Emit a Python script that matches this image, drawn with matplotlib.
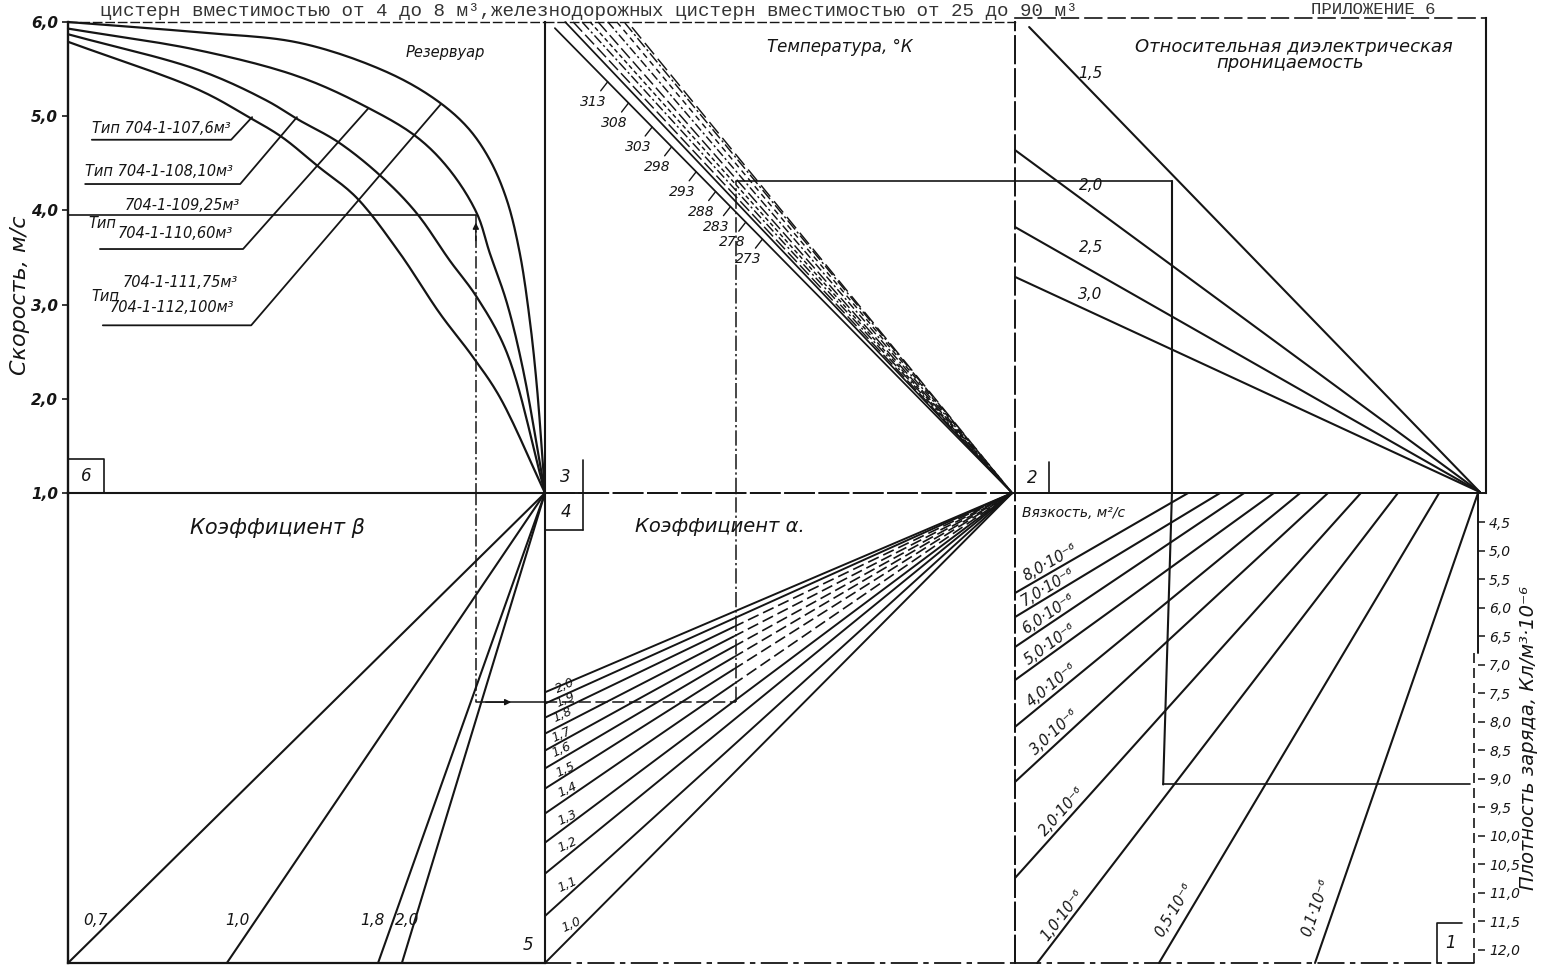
import numpy as np
import matplotlib
matplotlib.use("Agg")
import matplotlib.pyplot as plt

plt.rcParams['font.family'] = ['DejaVu Sans']
INK = '#151515'

# ===================== DATA =====================
# Panel 6 - tank curves: fraction across panel / speed, m/s
speed_ticks = [1.0, 2.0, 3.0, 4.0, 5.0, 6.0]
curve1_x = [0, 0.274, 0.484, 0.659, 0.764, 0.836, 0.884, 0.920, 0.947, 0.968, 0.983, 1.0]
curve1_v = [6.0, 5.89, 5.78, 5.49, 5.20, 4.89, 4.54, 4.11, 3.55, 2.84, 2.13, 1.0]
curve2_x = [0, 0.274, 0.484, 0.625, 0.731, 0.80, 0.857, 0.884, 0.920, 0.954, 1.0]
curve2_v = [5.93, 5.70, 5.42, 5.10, 4.78, 4.43, 3.97, 3.55, 3.02, 2.31, 1.0]
curve3_x = [0, 0.274, 0.415, 0.484, 0.568, 0.659, 0.731, 0.80, 0.857, 0.920, 1.0]
curve3_v = [5.87, 5.49, 5.17, 4.96, 4.72, 4.35, 3.97, 3.47, 3.08, 2.49, 1.0]
curve4_x = [0, 0.274, 0.379, 0.448, 0.526, 0.604, 0.695, 0.779, 0.848, 0.905, 1.0]
curve4_v = [5.79, 5.28, 4.99, 4.78, 4.46, 4.14, 3.55, 2.91, 2.45, 2.02, 1.0]
tank_type_lines = ["Тип 704-1-107,6м³", "Тип 704-1-108,10м³",
                   "704-1-109,25м³", "Тип", "704-1-110,60м³",
                   "704-1-111,75м³", "Тип", "704-1-112,100м³"]
leader_x0 = [0.050, 0.036, 0.067, 0.073]
leader_x1 = [0.342, 0.361, 0.367, 0.384]
leader_v = [4.75, 4.28, 3.59, 2.78]
leader_tip_x = [0.386, 0.480, 0.629, 0.782]
leader_tip_v = [4.99, 4.99, 5.08, 5.13]

# Panel 5 - coefficient beta
beta_values = [0.7, 1.0, 1.8, 2.0]
beta_bottom_x = [0.0, 0.333, 0.650, 0.700]

# Panel 4 - coefficient alpha
alpha_labels = ["2,0", "1,9", "1,8", "1,7", "1,6", "1,5", "1,4", "1,3", "1,2", "1,1", "1,0"]
alpha_left_fy = [0.424, 0.448, 0.478, 0.512, 0.548, 0.586, 0.629, 0.682, 0.744, 0.810, 0.900, 1.0]
alpha_dashed = [2, 3, 4, 5, 6, 7]

# Panel 3 - temperature, K
temp_values = [313, 308, 303, 298, 293, 288, 283, 278, 273]
temp_tick_fy = [0.127, 0.172, 0.223, 0.265, 0.318, 0.360, 0.392, 0.425, 0.461]
temp_top_x = [0.021, 0.043, 0.060, 0.079, 0.096, 0.113, 0.134, 0.153, 0.170, 0.185]
temp_top_fy = [0.013, 0.0, 0.0, 0.0, 0.0, 0.0, 0.0, 0.0, 0.002, 0.011]

# Panel 2 - relative permittivity
eps_values = [1.5, 2.0, 2.5, 3.0]
eps_start_x = [0.030, 0.0, 0.0, 0.0]
eps_start_fy = [0.019, 0.278, 0.440, 0.545]

# Panel 1 - viscosity lines over charge density scale
density_ticks = [4.5, 5.0, 5.5, 6.0, 6.5, 7.0, 7.5, 8.0, 8.5, 9.0, 9.5, 10.0, 10.5, 11.0, 11.5, 12.0]
visc_labels = ["8,0·10⁻⁶", "7,0·10⁻⁶", "6,0·10⁻⁶", "5,0·10⁻⁶", "4,0·10⁻⁶",
               "3,0·10⁻⁶", "2,0·10⁻⁶", "1,0·10⁻⁶", "0,5·10⁻⁶", "0,1·10⁻⁶"]
visc_start_x = [0, 0, 0, 0, 0, 0, 0, 0.048, 0.311, 0.648]
visc_start_d = [5.744, 6.165, 6.69, 7.27, 8.09, 9.056, 10.74, 12.23, 12.23, 12.23]
visc_end_x = [0.374, 0.443, 0.495, 0.559, 0.616, 0.676, 0.747, 0.827, 0.916, 1.0]

# Worked example (key line)
example_speed = 3.95
example_x6 = 0.855
example_fy5 = 0.445
example_x4 = 0.406
example_fy3 = 0.338
example_x2 = 0.333
example_x1 = 0.320
example_density = 9.1

# ===================== LAYOUT =====================
W, H = 1542, 967
fig = plt.figure(figsize=(W / 100, H / 100), dpi=100)
fig.patch.set_facecolor('white')


def panel(x0, y0, x1, y1):
    ax = fig.add_axes([x0 / W, 1 - y1 / H, (x1 - x0) / W, (y1 - y0) / H])
    ax.set_facecolor('none')
    ax.set_xticks([])
    ax.set_yticks([])
    for s in ax.spines.values():
        s.set_visible(False)
    ax.set_xlim(0, 1)
    return ax


def edge(ax, side, ls='-', lw=1.5):
    sp = ax.spines[side]
    sp.set_visible(True)
    sp.set_linestyle(ls)
    sp.set_linewidth(lw)
    sp.set_color(INK)


def line(ax, xs, ys, lw=1.5, ls='-', **kw):
    ax.plot(xs, ys, color=INK, lw=lw, ls=ls, clip_on=False, solid_capstyle='round', **kw)


def smooth_curve(ax, xs, ys, n=14, lw=1.6):
    """Draw a curve through the read points with a centripetal Catmull-Rom spline (display space)."""
    P = ax.transData.transform(np.column_stack([xs, ys]).astype(float))
    P = np.vstack([2 * P[0] - P[1], P, 2 * P[-1] - P[-2]])
    pieces = []
    for i in range(1, len(P) - 2):
        p0, p1, p2, p3 = P[i - 1], P[i], P[i + 1], P[i + 2]
        t0 = 0.0
        t1 = t0 + max(np.linalg.norm(p1 - p0), 1e-6) ** 0.5
        t2 = t1 + max(np.linalg.norm(p2 - p1), 1e-6) ** 0.5
        t3 = t2 + max(np.linalg.norm(p3 - p2), 1e-6) ** 0.5
        t = np.linspace(t1, t2, n)[:, None]
        A1 = (t1 - t) / (t1 - t0) * p0 + (t - t0) / (t1 - t0) * p1
        A2 = (t2 - t) / (t2 - t1) * p1 + (t - t1) / (t2 - t1) * p2
        A3 = (t3 - t) / (t3 - t2) * p2 + (t - t2) / (t3 - t2) * p3
        B1 = (t2 - t) / (t2 - t0) * A1 + (t - t0) / (t2 - t0) * A2
        B2 = (t3 - t) / (t3 - t1) * A2 + (t - t1) / (t3 - t1) * A3
        C = (t2 - t) / (t2 - t1) * B1 + (t - t1) / (t2 - t1) * B2
        pieces.append(C if i == len(P) - 3 else C[:-1])
    D = ax.transData.inverted().transform(np.vstack(pieces))
    line(ax, D[:, 0], D[:, 1], lw=lw)


def txt(ax, x, y, s, size=10, **kw):
    kw.setdefault('ha', 'center')
    kw.setdefault('va', 'center')
    kw.setdefault('style', 'italic')
    ax.text(x, y, s, fontsize=size, color=INK, clip_on=False, **kw)


def box(ax, x0, x1, y0, y1, label, size=12):
    line(ax, [x0, x1, x1], [y1, y1, y0], lw=1.2)
    txt(ax, (x0 + x1) / 2, (y0 + y1) / 2, label, size=size)


# ---------- Panel 6 ----------
ax6 = panel(68, 22, 545, 493)
ax6.set_ylim(1, 6)
edge(ax6, 'left', lw=1.7)
edge(ax6, 'right', lw=1.5)
edge(ax6, 'bottom', lw=1.5)
edge(ax6, 'top', ls=(0, (6, 3)), lw=1.0)
ax6.set_yticks(speed_ticks)
ax6.set_yticklabels([f"{v:.1f}".replace('.', ',') for v in speed_ticks],
                    fontsize=11, fontweight='bold', style='italic', color=INK)
ax6.tick_params(axis='y', direction='out', length=4, width=1.2, pad=3, color=INK)
ax6.set_ylabel("Скорость, м/с", fontsize=16, style='italic', color=INK)
ax6.yaxis.set_label_coords(-0.10, 0.42)
ax6.yaxis.label.set_va('center')

for cx, cv in [(curve1_x, curve1_v), (curve2_x, curve2_v), (curve3_x, curve3_v), (curve4_x, curve4_v)]:
    smooth_curve(ax6, cx, cv)

for i in range(4):
    line(ax6, [leader_x0[i], leader_x1[i], leader_tip_x[i]],
         [leader_v[i], leader_v[i], leader_tip_v[i]], lw=1.3)

tank_pos_x = [0.050, 0.036, 0.119, 0.042, 0.105, 0.115, 0.050, 0.088]
tank_pos_v = [4.87, 4.41, 4.05, 3.86, 3.76, 3.23, 3.09, 2.97]
for s, x, v in zip(tank_type_lines, tank_pos_x, tank_pos_v):
    txt(ax6, x, v, s, size=10.5, ha='left')

txt(ax6, 0.790, 5.68, "Резервуар", size=10.5)
box(ax6, 0.0, 0.075, 1.0, 1.36, "6")

# worked example in panel 6
line(ax6, [0, example_x6], [example_speed, example_speed], lw=1.2)
line(ax6, [example_x6, example_x6], [example_speed, 1.0], lw=1.1, ls=(0, (8, 2, 1.5, 2)))
ax6.annotate('', xy=(example_x6, example_speed - 0.05), xytext=(example_x6, example_speed - 0.3),
             arrowprops=dict(arrowstyle='-|>', color=INK, lw=1.0, mutation_scale=9))

# ---------- Panel 5 ----------
ax5 = panel(68, 493, 545, 963)
ax5.set_ylim(1, 0)
edge(ax5, 'left', lw=1.7)
edge(ax5, 'right', lw=1.5)
edge(ax5, 'bottom', lw=1.6)
for bx in beta_bottom_x:
    line(ax5, [1.0, bx], [0.0, 1.0], lw=1.5)
beta_lab_x = [0.057, 0.356, 0.639, 0.711]
for b, x in zip(beta_values, beta_lab_x):
    txt(ax5, x, 0.909, f"{b:.1f}".replace('.', ','), size=11)
txt(ax5, 0.440, 0.074, "Коэффициент β", size=15)
box(ax5, 0.927, 1.0, 0.923, 1.0, "5")
line(ax5, [example_x6, example_x6], [0.0, example_fy5], lw=1.1, ls=(0, (8, 2, 1.5, 2)))
line(ax5, [example_x6, 1.0], [example_fy5, example_fy5], lw=1.1)
ax5.annotate('', xy=(0.935, example_fy5), xytext=(0.87, example_fy5),
             arrowprops=dict(arrowstyle='-|>', color=INK, lw=1.0, mutation_scale=9))

# ---------- Panel 4 ----------
ax4 = panel(545, 493, 1015, 963)
ax4.set_ylim(1, 0)
edge(ax4, 'right', ls=(0, (14, 3)), lw=1.4)
edge(ax4, 'bottom', ls=(0, (14, 4, 2, 4)), lw=1.3)
edge(ax4, 'top', ls=(0, (16, 3)), lw=1.3)
conv_x4 = 0.994
split = 0.40
for i, fy in enumerate(alpha_left_fy):
    if i in alpha_dashed:
        ys = fy * (1 - split / conv_x4)
        line(ax4, [0, split], [fy, ys], lw=1.4)
        line(ax4, [split, conv_x4], [ys, 0.0], lw=1.2, ls=(0, (7, 3)))
    else:
        line(ax4, [0, conv_x4], [fy, 0.0], lw=1.4)
alpha_pos_x = [0.043, 0.043, 0.038, 0.036, 0.036, 0.043, 0.047, 0.047, 0.049, 0.047, 0.057]
alpha_pos_fy = [0.409, 0.440, 0.472, 0.515, 0.547, 0.589, 0.632, 0.691, 0.749, 0.834, 0.919]
for s, x, y in zip(alpha_labels, alpha_pos_x, alpha_pos_fy):
    txt(ax4, x, y, s, size=9, rotation=25)
txt(ax4, 0.372, 0.072, "Коэффициент α.", size=14)
line(ax4, [0, 0.081, 0.081], [0.0, 0.0, 0.079], lw=1.2)
line(ax4, [0.0, 0.081], [0.079, 0.079], lw=1.2)
txt(ax4, 0.045, 0.040, "4", size=12)
line(ax4, [0, example_x4], [example_fy5, example_fy5], lw=1.1, ls=(0, (8, 3)))
line(ax4, [example_x4, example_x4], [example_fy5, 0.0], lw=1.1, ls=(0, (10, 2, 1.5, 2)))

# ---------- Panel 3 ----------
ax3 = panel(545, 22, 1015, 493)
ax3.set_ylim(1, 0)
edge(ax3, 'top', ls=(0, (6, 3)), lw=1.0)
edge(ax3, 'right', ls=(0, (14, 3)), lw=1.4)
edge(ax3, 'bottom', ls=(0, (16, 3)), lw=1.3)
conv_x3 = 0.994
temp_styles = ['-', '-', (0, (9, 3)), (0, (7, 2, 1.5, 2)), (0, (3, 2)), (0, (9, 3)),
               (0, (6, 2, 1.5, 2)), (0, (4, 3)), (0, (8, 2, 1.5, 2)), (0, (10, 4))]
for tx, ty, st in zip(temp_top_x, temp_top_fy, temp_styles):
    line(ax3, [tx, conv_x3], [ty, 1.0], lw=1.25 if st == '-' else 1.05, ls=st)
for t, fy in zip(temp_values, temp_tick_fy):
    px = temp_top_x[0] + (conv_x3 - temp_top_x[0]) * (fy - temp_top_fy[0]) / (1 - temp_top_fy[0])
    ax3.annotate('', xy=(px, fy), xytext=(-7, -9), textcoords='offset pixels',
                 arrowprops=dict(arrowstyle='-', color=INK, lw=1.0, shrinkA=0, shrinkB=0))
    ax3.annotate(str(t), xy=(px, fy), xytext=(-14, -20), textcoords='offset pixels',
                 ha='center', va='center', fontsize=10, style='italic', color=INK)
txt(ax3, 0.628, 0.053, "Температура, °К", size=12)
box(ax3, 0.004, 0.081, 0.93, 1.0, "3")
line(ax3, [example_x4, example_x4], [1.0, example_fy3], lw=1.1, ls=(0, (10, 2, 1.5, 2)))
line(ax3, [example_x4, 1.0], [example_fy3, example_fy3], lw=1.2)

# ---------- Panel 2 ----------
ax2 = panel(1015, 18, 1486, 493)
ax2.set_ylim(1, 0)
edge(ax2, 'top', ls=(0, (10, 4)), lw=1.2)
edge(ax2, 'right', lw=1.5)
edge(ax2, 'bottom', lw=1.4)
for ex, ey in zip(eps_start_x, eps_start_fy):
    line(ax2, [ex, 0.987], [ey, 0.998], lw=1.5)
eps_lab_x = [0.161, 0.161, 0.161, 0.159]
eps_lab_fy = [0.116, 0.352, 0.484, 0.583]
for e, x, y in zip(eps_values, eps_lab_x, eps_lab_fy):
    txt(ax2, x, y, f"{e:.1f}".replace('.', ','), size=11)
txt(ax2, 0.592, 0.061, "Относительная диэлектрическая", size=13)
txt(ax2, 0.584, 0.095, "проницаемость", size=13)
box(ax2, 0.0, 0.072, 0.935, 1.0, "2")
line(ax2, [0, example_x2], [example_fy3 + 0.005, example_fy3 + 0.005], lw=1.2)
line(ax2, [example_x2, example_x2], [example_fy3 + 0.005, 1.0], lw=1.5)

# ---------- Panel 1 ----------
ax1 = panel(1015, 493, 1478, 963)
dens_top, dens_bottom = 3.99, 12.23
ax1.set_ylim(dens_bottom, dens_top)
edge(ax1, 'top', lw=1.4)
edge(ax1, 'bottom', ls=(0, (14, 4, 2, 4)), lw=1.3)
edge(ax1, 'left', ls=(0, (14, 3)), lw=1.4)
ax1.yaxis.tick_right()
ax1.set_yticks(density_ticks)
ax1.set_yticklabels([f"{d:.1f}".replace('.', ',') for d in density_ticks],
                    fontsize=10, style='italic', color=INK)
ax1.tick_params(axis='y', direction='out', length=5, width=1.1, pad=3, color=INK)
line(ax1, [1.0, 1.0], [dens_top, 6.8], lw=1.4)
line(ax1, [0.991, 0.991], [6.8, dens_bottom], lw=1.2, ls=(0, (6, 3)))
ax1.set_ylabel("Плотность заряда, Кл/м³·10⁻⁶", fontsize=14, style='italic', color=INK)
ax1.yaxis.set_label_position('right')
ax1.yaxis.set_label_coords(1.108, 0.479)
ax1.yaxis.label.set_va('center')

for sx, sd, exn in zip(visc_start_x, visc_start_d, visc_end_x):
    line(ax1, [sx, exn], [sd, dens_top], lw=1.5)

visc_pos_x = [0.076, 0.071, 0.071, 0.076, 0.080, 0.086, 0.102, 0.102, 0.343, 0.650]
visc_pos_d = [5.20, 5.64, 6.11, 6.64, 7.36, 8.18, 9.58, 11.40, 11.30, 11.25]
for i, (s, x, d) in enumerate(zip(visc_labels, visc_pos_x, visc_pos_d)):
    p0 = ax1.transData.transform((visc_start_x[i], visc_start_d[i]))
    p1 = ax1.transData.transform((visc_end_x[i], dens_top))
    ang = np.degrees(np.arctan2(p1[1] - p0[1], p1[0] - p0[0]))
    txt(ax1, x, d, s, size=10.5, rotation=ang, rotation_mode='anchor')
txt(ax1, 0.015, 4.34, "Вязкость, м²/с", size=10, ha='left')
line(ax1, [0.911, 0.911, 0.965], [dens_bottom, 11.53, 11.53], lw=1.2)
txt(ax1, 0.940, 11.88, "1", size=12)

line(ax1, [0.339, example_x1], [dens_top, example_density], lw=1.5)
line(ax1, [example_x1, 0.983], [example_density, example_density], lw=1.2)

# ---------- header texts ----------
fig.text(100 / W, 1 - 11 / H,
         "цистерн вместимостью от 4 до 8 м³,железнодорожных цистерн вместимостью от 25 до 90 м³",
         family='Liberation Mono', fontsize=13.8, color='#333333', ha='left', va='center')
fig.text(1373 / W, 1 - 10 / H, "ПРИЛОЖЕНИЕ 6", family='Liberation Mono', fontsize=12.5,
         color='#333333', ha='center', va='center')

fig.savefig("out.png", dpi=100, facecolor='white')
